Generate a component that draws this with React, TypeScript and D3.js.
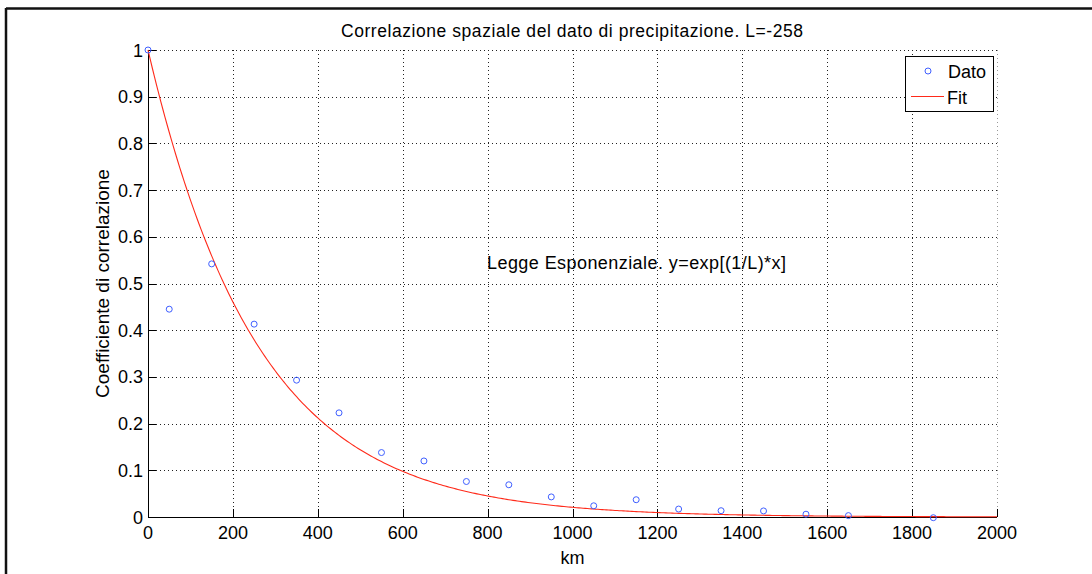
import React from "react";
import * as d3 from "d3";

// Measured correlation data (distance in km, correlation coefficient)
const distanceKm = [0, 50, 150, 250, 350, 450, 550, 650, 750, 850, 950, 1050, 1150, 1250, 1350, 1450, 1550, 1650, 1850];
const correlation = [1.0, 0.445, 0.542, 0.413, 0.293, 0.223, 0.138, 0.12, 0.076, 0.069, 0.043, 0.024, 0.037, 0.017, 0.0135, 0.013, 0.006, 0.003, -0.0015];

// Exponential law parameter
const L = -258;

const xTicks = [0, 200, 400, 600, 800, 1000, 1200, 1400, 1600, 1800, 2000];
const yTicks = [0, 0.1, 0.2, 0.3, 0.4, 0.5, 0.6, 0.7, 0.8, 0.9, 1];

const titleText = "Correlazione spaziale del dato di precipitazione. L=-258";
const annotationText = "Legge Esponenziale. y=exp[(1/L)*x]";
const xLabel = "km";
const yLabel = "Coefficiente di correlazione";
const legendLabels = ["Dato", "Fit"];

const W = 1092;
const H = 574;
const plot = { left: 148, right: 997, top: 50, bottom: 517 };
const FONT = "'Liberation Sans', Arial, Helvetica, sans-serif";

export default function App() {
  const x = d3.scaleLinear().domain([0, 2000]).range([plot.left, plot.right]);
  const y = d3.scaleLinear().domain([0, 1]).range([plot.bottom, plot.top]);

  const fitX = d3.range(0, 2000.5, 5);
  const fitLine = d3
    .line<number>()
    .x((d) => x(d))
    .y((d) => y(Math.exp(d / L)))(fitX) as string;

  const fmt = (v: number) => (v === 0 ? "0" : v === 1 ? "1" : d3.format(".1f")(v));

  return (
    <svg
      width={W}
      height={H}
      style={{ position: "absolute", left: 0, top: 0, background: "#fff" }}
      fontFamily={FONT}
    >
      <rect x={0} y={0} width={W} height={H} fill="#fff" />
      {/* figure frame */}
      <line x1={6} x2={W} y1={8.5} y2={8.5} stroke="#111" strokeWidth={2.5} />
      <line x1={6} x2={6} y1={8} y2={H} stroke="#111" strokeWidth={2.5} />

      {/* grid */}
      {xTicks.map((t) => (
        <line
          key={"gx" + t}
          x1={Math.round(x(t)) + 0.5}
          x2={Math.round(x(t)) + 0.5}
          y1={plot.top}
          y2={plot.bottom}
          stroke={t === 2000 ? "#999" : "#222"}
          strokeWidth={1}
          strokeDasharray="1 3"
        />
      ))}
      {yTicks.map((t) => (
        <line
          key={"gy" + t}
          x1={plot.left}
          x2={plot.right}
          y1={Math.round(y(t)) + 0.5}
          y2={Math.round(y(t)) + 0.5}
          stroke="#222"
          strokeWidth={1}
          strokeDasharray="1 3"
        />
      ))}

      {/* axes */}
      <line x1={plot.left} x2={plot.right} y1={plot.bottom + 0.5} y2={plot.bottom + 0.5} stroke="#000" />
      <line x1={plot.left + 0.5} x2={plot.left + 0.5} y1={plot.top} y2={plot.bottom} stroke="#000" />
      {xTicks.map((t) => (
        <g key={"tx" + t}>
          <line
            x1={Math.round(x(t)) + 0.5}
            x2={Math.round(x(t)) + 0.5}
            y1={plot.bottom}
            y2={plot.bottom - 8}
            stroke="#000"
          />
          <text x={x(t)} y={538.5} fontSize={18} textAnchor="middle" fill="#000">
            {t}
          </text>
        </g>
      ))}
      {yTicks.map((t) => (
        <g key={"ty" + t}>
          <line
            x1={plot.left}
            x2={plot.left + 8}
            y1={Math.round(y(t)) + 0.5}
            y2={Math.round(y(t)) + 0.5}
            stroke="#000"
          />
          <text x={143} y={y(t) + 6.5} fontSize={18} textAnchor="end" fill="#000">
            {fmt(t)}
          </text>
        </g>
      ))}

      {/* exponential fit */}
      <path d={fitLine} fill="none" stroke="#ff2a1a" strokeWidth={1.1} />

      {/* data points */}
      {distanceKm.map((d, i) => (
        <circle
          key={"p" + i}
          cx={x(d)}
          cy={y(correlation[i])}
          r={3}
          fill="none"
          stroke="#3f5fff"
          strokeWidth={1}
        />
      ))}

      {/* texts */}
      <text x={341} y={36.5} fontSize={17.5} fill="#000" textLength={462} lengthAdjust="spacing">
        {titleText}
      </text>
      <text x={487} y={268.5} fontSize={18} fill="#000" textLength={299} lengthAdjust="spacing">
        {annotationText}
      </text>
      <text x={(plot.left + plot.right) / 2} y={563.5} fontSize={18} textAnchor="middle" fill="#000">
        {xLabel}
      </text>
      <text
        transform={`translate(108.5, ${(plot.top + plot.bottom) / 2}) rotate(-90)`}
        fontSize={19}
        textAnchor="middle"
        fill="#000"
      >
        {yLabel}
      </text>

      {/* legend */}
      <rect x={905.5} y={56.5} width={88} height={55} fill="#fff" stroke="#000" strokeWidth={1} />
      <circle cx={928} cy={71} r={3} fill="none" stroke="#3f5fff" strokeWidth={1} />
      <text x={948} y={77.5} fontSize={18} fill="#000">
        {legendLabels[0]}
      </text>
      <line x1={911} x2={944} y1={96.5} y2={96.5} stroke="#ff2a1a" strokeWidth={1.1} />
      <text x={947} y={103.5} fontSize={18} fill="#000">
        {legendLabels[1]}
      </text>
    </svg>
  );
}
